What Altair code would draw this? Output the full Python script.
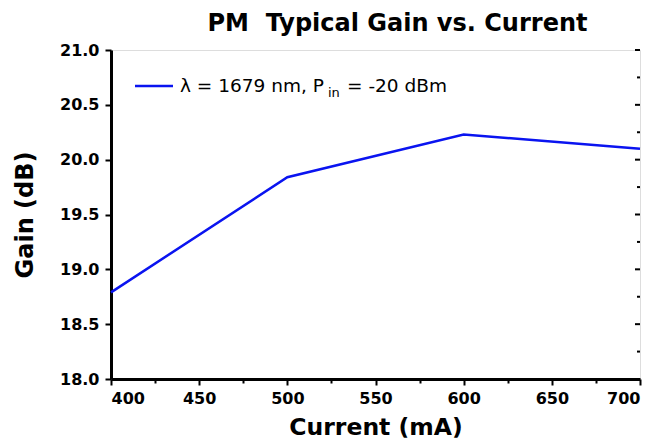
import altair as alt
import pandas as pd

# ---- data ----
current_ma = [400, 500, 600, 700]
gain_db = [18.79, 19.84, 20.23, 20.10]

x_tick_values = [400, 425, 450, 475, 500, 525, 550, 575, 600, 625, 650, 675, 700]
y_tick_values = [18.0, 18.25, 18.5, 18.75, 19.0, 19.25, 19.5, 19.75, 20.0,
                 20.25, 20.5, 20.75, 21.0]
y_major = [18.0, 18.5, 19.0, 19.5, 20.0, 20.5, 21.0]
y_minor = [18.25, 18.75, 19.25, 19.75, 20.25, 20.75]

title_text = "PM\u00a0\u00a0Typical Gain vs. Current"
x_title = "Current (mA)"
y_title = "Gain (dB)"
legend_main = "\u03bb = 1679 nm, P"
legend_sub = "in"
legend_tail = "= -20 dBm"

FONT = "DejaVu Sans"
W, H = 529, 329

df = pd.DataFrame({"current": current_ma, "gain": gain_db})

x_scale = alt.Scale(domain=[400, 700], nice=False, zero=False)
y_scale = alt.Scale(domain=[18.0, 21.0], nice=False, zero=False)

x_axis = alt.Axis(
    values=x_tick_values,
    labelExpr="datum.value % 50 == 0 ? format(datum.value, 'd') : ''",
    labelOverlap=False,
    tickSize={"condition": {"test": "datum.value % 50 == 0", "value": 6}, "value": 4},
    tickWidth=2, tickColor="black",
    domainColor="black", domainWidth=3,
    labelFont=FONT, labelFontSize=16, labelFontWeight="bold", labelColor="black",
    labelPadding=5,
    title=x_title, titleFont=FONT, titleFontSize=23.5, titleFontWeight="bold",
    titleColor="black", titlePadding=9,
    grid=False,
)
y_axis = alt.Axis(
    values=y_tick_values,
    labelExpr="abs(datum.value*2 - round(datum.value*2)) < 0.01 ? format(datum.value, '.1f') : ''",
    labelOverlap=False,
    tickSize={"condition": {"test": "abs(datum.value*2 - round(datum.value*2)) < 0.01", "value": 6}, "value": 4},
    tickWidth=2, tickColor="black",
    domainColor="black", domainWidth=3,
    labelFont=FONT, labelFontSize=16, labelFontWeight="bold", labelColor="black",
    labelPadding=6,
    title=y_title, titleFont=FONT, titleFontSize=24, titleFontWeight="bold",
    titleColor="black", titlePadding=22,
    grid=False,
)

line = alt.Chart(df).mark_line(color="#0a14f0", strokeWidth=2.5).encode(
    x=alt.X("current:Q", scale=x_scale, axis=x_axis),
    y=alt.Y("gain:Q", scale=y_scale, axis=y_axis),
)

# mirror ticks on the right side (inward)
rt_major = alt.Chart(pd.DataFrame({"v": y_major})).mark_rule(color="black", strokeWidth=2).encode(
    y=alt.Y("v:Q", scale=y_scale), x=alt.value(W), x2=alt.value(W - 5)
)
rt_minor = alt.Chart(pd.DataFrame({"v": y_minor})).mark_rule(color="black", strokeWidth=2).encode(
    y=alt.Y("v:Q", scale=y_scale), x=alt.value(W), x2=alt.value(W - 3)
)

# legend (inside plot)
leg_line = alt.Chart(pd.DataFrame({"a": [0]})).mark_rule(color="#0a14f0", strokeWidth=2.5).encode(
    x=alt.value(24), x2=alt.value(62), y=alt.value(36)
)
leg_t1 = alt.Chart(pd.DataFrame({"t": [legend_main]})).mark_text(
    font=FONT, fontSize=18.5, align="left", baseline="alphabetic", color="black"
).encode(text="t:N", x=alt.value(69), y=alt.value(42))
leg_t2 = alt.Chart(pd.DataFrame({"t": [legend_sub]})).mark_text(
    font=FONT, fontSize=13, align="left", baseline="alphabetic", color="black"
).encode(text="t:N", x=alt.value(217), y=alt.value(47))
leg_t3 = alt.Chart(pd.DataFrame({"t": [legend_tail]})).mark_text(
    font=FONT, fontSize=18.5, align="left", baseline="alphabetic", color="black"
).encode(text="t:N", x=alt.value(236), y=alt.value(42))

chart = alt.layer(line, rt_major, rt_minor, leg_line, leg_t1, leg_t2, leg_t3).properties(
    width=W, height=H,
    title=alt.TitleParams(
        text=title_text, font=FONT, fontSize=24, fontWeight="bold", color="black",
        anchor="middle", dx=22, offset=6,
    ),
    autosize=alt.AutoSizeParams(type="none"),
    padding={"left": 103, "top": 42, "right": 23, "bottom": 60},
).configure_view(stroke="black", strokeWidth=2).configure(background="white")

chart.save("out.html", embed_options={"renderer": "svg", "actions": False})
